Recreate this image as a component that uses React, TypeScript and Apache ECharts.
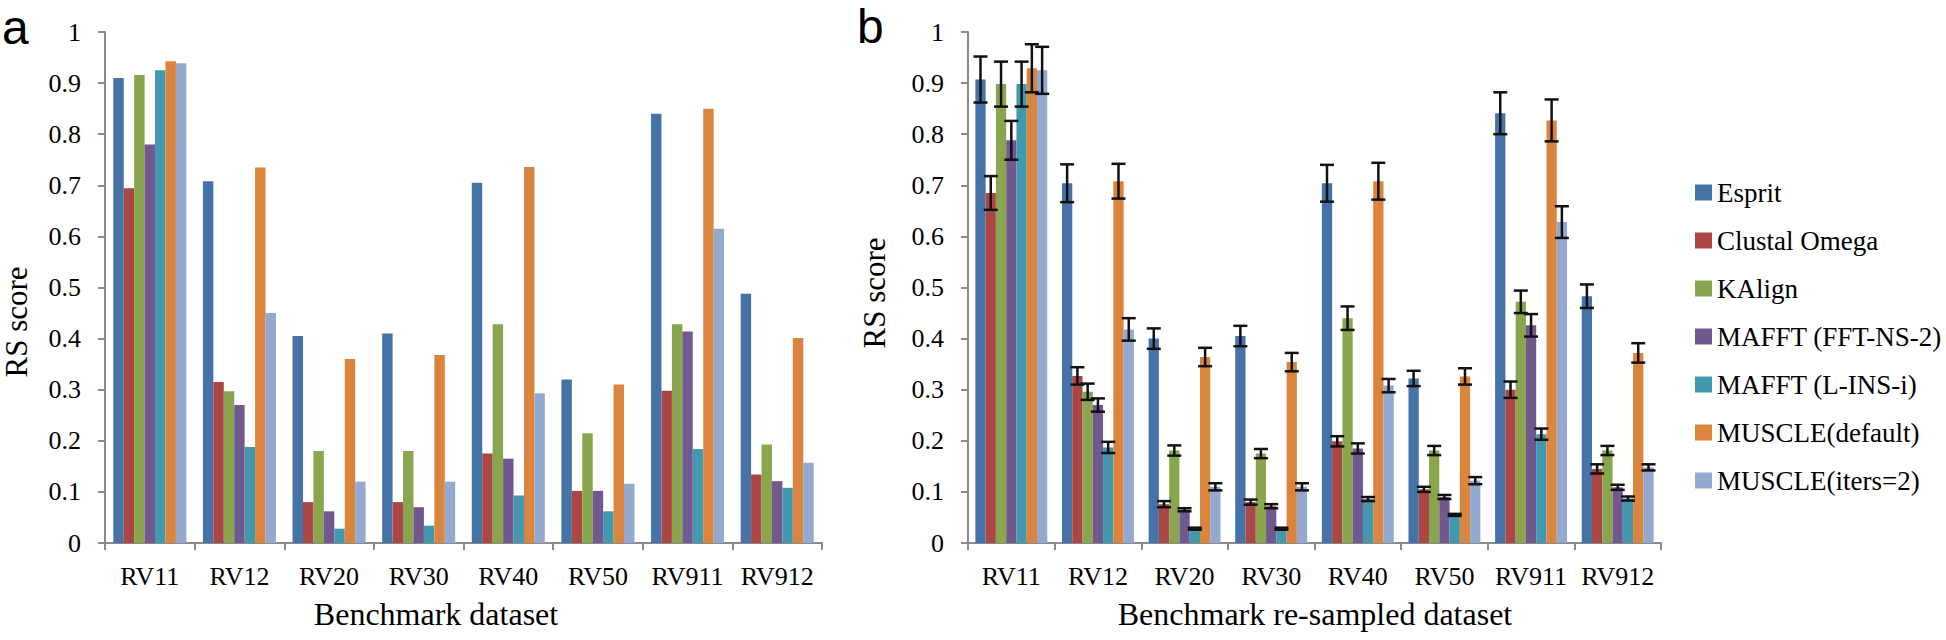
import React, { useEffect, useRef } from "react";
import * as echarts from "echarts";

const categories = ["RV11", "RV12", "RV20", "RV30", "RV40", "RV50", "RV911", "RV912"];
const methods = [
  "Esprit",
  "Clustal Omega",
  "KAlign",
  "MAFFT (FFT-NS-2)",
  "MAFFT (L-INS-i)",
  "MUSCLE(default)",
  "MUSCLE(iters=2)",
];
const colors = ["#4572A7", "#AA4643", "#89A54E", "#71588F", "#4198AF", "#DB843D", "#93A9CF"];

// Panel a: benchmark dataset
const aEsprit = [0.91, 0.708, 0.405, 0.41, 0.705, 0.32, 0.84, 0.488];
const aClustal = [0.694, 0.315, 0.08, 0.08, 0.175, 0.102, 0.298, 0.134];
const aKAlign = [0.916, 0.297, 0.18, 0.18, 0.428, 0.215, 0.428, 0.193];
const aMafftFFT = [0.78, 0.27, 0.062, 0.07, 0.165, 0.102, 0.414, 0.121];
const aMafftLINS = [0.925, 0.188, 0.028, 0.034, 0.093, 0.062, 0.184, 0.108];
const aMuscleDef = [0.943, 0.735, 0.36, 0.368, 0.736, 0.31, 0.85, 0.401];
const aMuscleIt2 = [0.939, 0.45, 0.12, 0.12, 0.293, 0.116, 0.615, 0.157];

// Panel b: re-sampled dataset (mean, error)
const bEsprit = [0.907, 0.704, 0.4, 0.405, 0.704, 0.322, 0.841, 0.483];
const bEspritErr = [0.045, 0.037, 0.02, 0.02, 0.036, 0.015, 0.041, 0.023];
const bClustal = [0.685, 0.327, 0.076, 0.08, 0.199, 0.105, 0.3, 0.145];
const bClustalErr = [0.033, 0.017, 0.006, 0.005, 0.01, 0.005, 0.016, 0.009];
const bKAlign = [0.898, 0.296, 0.181, 0.175, 0.44, 0.181, 0.472, 0.181];
const bKAlignErr = [0.044, 0.016, 0.01, 0.009, 0.023, 0.009, 0.022, 0.009];
const bMafftFFT = [0.788, 0.27, 0.065, 0.072, 0.185, 0.09, 0.426, 0.109];
const bMafftFFTErr = [0.038, 0.013, 0.003, 0.004, 0.01, 0.004, 0.022, 0.005];
const bMafftLINS = [0.898, 0.187, 0.028, 0.028, 0.086, 0.055, 0.213, 0.087];
const bMafftLINSErr = [0.044, 0.011, 0.002, 0.002, 0.004, 0.002, 0.011, 0.004];
const bMuscleDef = [0.929, 0.708, 0.364, 0.354, 0.708, 0.326, 0.827, 0.372];
const bMuscleDefErr = [0.047, 0.034, 0.018, 0.018, 0.036, 0.016, 0.041, 0.019];
const bMuscleIt2 = [0.925, 0.418, 0.11, 0.11, 0.308, 0.122, 0.628, 0.148];
const bMuscleIt2Err = [0.046, 0.022, 0.007, 0.007, 0.013, 0.007, 0.031, 0.006];

const yTicks = [0, 0.1, 0.2, 0.3, 0.4, 0.5, 0.6, 0.7, 0.8, 0.9, 1];

const SERIF = "Liberation Serif";
const SANS = "Liberation Sans";
const AXIS_COLOR = "#8a8a8a";
const GAP_A = 0.185;
const GAP_B = 0.17;

export default function App() {
  const ref = useRef<HTMLDivElement>(null);

  useEffect(() => {
    document.body.style.margin = "0";
    if (!ref.current) return;
    const chart = echarts.init(ref.current, undefined, { renderer: "svg" });

    const aSets = [aEsprit, aClustal, aKAlign, aMafftFFT, aMafftLINS, aMuscleDef, aMuscleIt2];
    const bSets = [bEsprit, bClustal, bKAlign, bMafftFFT, bMafftLINS, bMuscleDef, bMuscleIt2];
    const bErrs = [bEspritErr, bClustalErr, bKAlignErr, bMafftFFTErr, bMafftLINSErr, bMuscleDefErr, bMuscleIt2Err];

    const errData: number[][] = [];
    bSets.forEach((vals, k) => {
      vals.forEach((v, c) => errData.push([c, v, bErrs[k][c], k]));
    });

    const xAxisBase = (gridIndex: number) => ({
      type: "category" as const,
      gridIndex,
      data: categories,
      boundaryGap: true,
      axisLine: { show: true, lineStyle: { color: AXIS_COLOR, width: 2 } },
      axisTick: { show: true, length: 7, lineStyle: { color: AXIS_COLOR, width: 2 } },
      axisLabel: { color: "#000", fontFamily: SERIF, fontSize: 26, margin: 20, interval: 0 },
      splitLine: { show: false },
    });
    const yAxisBase = (gridIndex: number) => ({
      type: "value" as const,
      gridIndex,
      min: yTicks[0],
      max: yTicks[yTicks.length - 1],
      interval: 0.1,
      axisLine: { show: true, lineStyle: { color: AXIS_COLOR, width: 2 } },
      axisTick: { show: true, length: 7, lineStyle: { color: AXIS_COLOR, width: 2 } },
      axisLabel: {
        color: "#000",
        fontFamily: SERIF,
        fontSize: 26,
        margin: 24,
        formatter: (v: number) => String(Math.round(v * 10) / 10),
      },
      splitLine: { show: false },
    });

    const series: any[] = [];
    aSets.forEach((vals, k) => {
      series.push({
        type: "bar",
        name: methods[k],
        xAxisIndex: 0,
        yAxisIndex: 0,
        data: vals,
        barGap: "0%",
        barCategoryGap: GAP_A * 100 + "%",
        itemStyle: { color: colors[k] },
      });
    });
    bSets.forEach((vals, k) => {
      series.push({
        type: "bar",
        name: methods[k],
        xAxisIndex: 1,
        yAxisIndex: 1,
        data: vals,
        barGap: "0%",
        barCategoryGap: GAP_B * 100 + "%",
        itemStyle: { color: colors[k] },
      });
    });
    series.push({
      type: "custom",
      name: "err",
      xAxisIndex: 1,
      yAxisIndex: 1,
      data: errData,
      z: 10,
      encode: { x: 0, y: 1 },
      renderItem: (params: any, api: any) => {
        const cat = api.value(0);
        const mean = api.value(1);
        const err = api.value(2);
        const k = api.value(3);
        const band = api.size([1, 0])[0];
        const bw = (band * (1 - GAP_B)) / 7;
        const c = api.coord([cat, mean]);
        const x = c[0] + (k - 3) * bw;
        const top = api.coord([cat, mean + err])[1];
        const bot = api.coord([cat, mean - err])[1];
        const hw = 7;
        const st = { stroke: "#111", lineWidth: 2.5 };
        return {
          type: "group",
          children: [
            { type: "line", shape: { x1: x, y1: top, x2: x, y2: bot }, style: st },
            { type: "line", shape: { x1: x - hw, y1: top, x2: x + hw, y2: top }, style: st },
            { type: "line", shape: { x1: x - hw, y1: bot, x2: x + hw, y2: bot }, style: st },
          ],
        };
      },
    });

    const txt = (text: string, family: string, size: number, extra: any = {}) => ({
      text,
      fontFamily: family,
      fontSize: size,
      fill: "#000",
      ...extra,
    });

    chart.setOption({
      animation: false,
      backgroundColor: "#fff",
      textStyle: { fontFamily: SERIF, color: "#000" },
      grid: [
        { left: 105, top: 32, width: 717, height: 511 },
        { left: 968, top: 32, width: 693, height: 511 },
      ],
      xAxis: [xAxisBase(0), xAxisBase(1)],
      yAxis: [yAxisBase(0), yAxisBase(1)],
      legend: {
        data: methods,
        orient: "vertical",
        left: 1690,
        top: 174,
        icon: "rect",
        itemWidth: 17,
        itemHeight: 16,
        itemGap: 21,
        selectedMode: false,
        textStyle: { color: "#000", fontFamily: SERIF, fontSize: 27, lineHeight: 27 },
      },
      graphic: [
        { type: "text", x: 2, y: 27, style: txt("a", SANS, 48, { verticalAlign: "middle" }) },
        { type: "text", x: 857, y: 26, style: txt("b", SANS, 48, { verticalAlign: "middle" }) },
        {
          type: "text",
          x: 16,
          y: 322,
          rotation: Math.PI / 2,
          style: txt("RS score", SERIF, 31, { align: "center", verticalAlign: "middle" }),
        },
        {
          type: "text",
          x: 874,
          y: 293,
          rotation: Math.PI / 2,
          style: txt("RS score", SERIF, 31, { align: "center", verticalAlign: "middle" }),
        },
        {
          type: "text",
          x: 436,
          y: 614,
          style: txt("Benchmark dataset", SERIF, 32, { align: "center", verticalAlign: "middle" }),
        },
        {
          type: "text",
          x: 1315,
          y: 614,
          style: txt("Benchmark re-sampled dataset", SERIF, 32, { align: "center", verticalAlign: "middle" }),
        },
      ],
      series,
    });

    return () => chart.dispose();
  }, []);

  return <div ref={ref} style={{ width: 1946, height: 640 }} />;
}
